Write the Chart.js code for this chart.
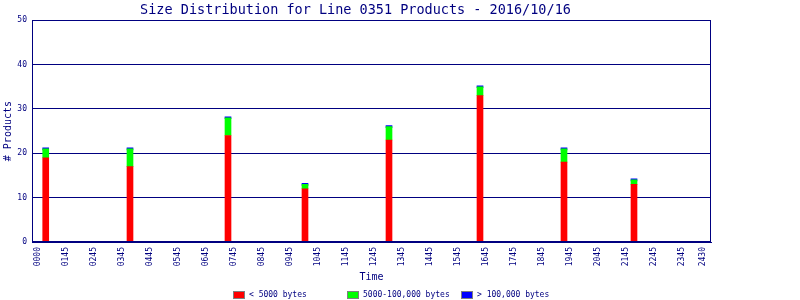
<!DOCTYPE html>
<html>
<head>
<meta charset="utf-8">
<script src="https://cdn.jsdelivr.net/npm/chart.js@4.4.0/dist/chart.umd.min.js"></script>
<style>
  html, body { margin: 0; padding: 0; background: #fff; }
</style>
</head>
<body>
<canvas id="sizeChart" width="800" height="300"></canvas>
<script>
// product times (hours on the axis) and counts per size class
const productTimes = [1.04, 4.05, 7.55, 10.3, 13.3, 16.55, 19.55, 22.05];
const smallCounts = [19, 17, 24, 12, 23, 33, 18, 13];
const mediumCounts = [2, 4, 4, 1, 3, 2, 3, 1];
const largeCounts = [0, 0, 0, 0, 0, 0, 0, 0];

const tickHours = [0.75, 1.75, 2.75, 3.75, 4.75, 5.75, 6.75, 7.75, 8.75, 9.75, 10.75, 11.75,
  12.75, 13.75, 14.75, 15.75, 16.75, 17.75, 18.75, 19.75, 20.75, 21.75, 22.75, 23.75, 24.5];
const tickLabels = ["0000", "0145", "0245", "0345", "0445", "0545", "0645", "0745", "0845",
  "0945", "1045", "1145", "1245", "1345", "1445", "1545", "1645", "1745", "1845", "1945",
  "2045", "2145", "2245", "2345", "2430"];

const seriesNames = ["< 5000 bytes", "5000-100,000 bytes", "> 100,000 bytes"];
const seriesColors = ["#ff0000", "#00ff00", "#0000ff"];

const NAVY = "#000080";
const MONO = "'DejaVu Sans Mono', 'Liberation Mono', monospace";

function points(values) {
  return productTimes.map((t, i) => ({ x: t, y: values[i] }));
}

// plot frame + fixed-slot legend under the chart
const framePlugin = {
  id: "frame",
  afterDatasetsDraw(chart) {
    const { ctx, chartArea: a } = chart;
    ctx.save();
    ctx.strokeStyle = NAVY;
    ctx.lineWidth = 1;
    const l = Math.round(a.left) + 0.5, t = Math.round(a.top) + 0.5;
    const r = Math.round(a.right) - 0.5, b = Math.round(a.bottom) - 0.5;
    ctx.strokeRect(l, t, r - l, b - t);
    ctx.restore();
  },
  afterDraw(chart) {
    const ctx = chart.ctx;
    ctx.save();
    ctx.font = "8px " + MONO;
    ctx.textBaseline = "middle";
    chart.data.datasets.forEach((ds, i) => {
      const x = 233 + i * 114;
      ctx.fillStyle = ds.backgroundColor;
      ctx.fillRect(x, 291, 12, 8);
      ctx.strokeStyle = "#808080";
      ctx.strokeRect(x + 0.5, 291.5, 11, 7);
      ctx.fillStyle = NAVY;
      ctx.fillText(ds.label, x + 16, 295);
    });
    ctx.restore();
  }
};

new Chart(document.getElementById("sizeChart"), {
  type: "bar",
  data: {
    datasets: [
      { label: seriesNames[0], data: points(smallCounts), backgroundColor: seriesColors[0] },
      { label: seriesNames[1], data: points(mediumCounts), backgroundColor: seriesColors[1] },
      { label: seriesNames[2], data: points(largeCounts), backgroundColor: seriesColors[2], minBarLength: 2 }
    ]
  },
  options: {
    responsive: false,
    animation: false,
    barThickness: 6,
    layout: { padding: { left: 0, right: 89, top: 0, bottom: 0 } },
    plugins: {
      legend: { display: false },
      tooltip: { enabled: false },
      title: {
        display: true,
        text: "Size Distribution for Line 0351 Products - 2016/10/16",
        color: NAVY,
        font: { family: MONO, size: 13.5, weight: "normal" },
        padding: { top: 2, bottom: 2 }
      }
    },
    scales: {
      x: {
        type: "linear",
        stacked: true,
        offset: false,
        min: 0.55,
        max: 24.8,
        afterBuildTicks: scale => { scale.ticks = tickHours.map(v => ({ value: v })); },
        afterFit: scale => { scale.height = 58; },
        ticks: {
          autoSkip: false,
          minRotation: 90,
          maxRotation: 90,
          padding: 5,
          color: NAVY,
          font: { family: MONO, size: 8 },
          callback: (v, i) => tickLabels[i]
        },
        grid: { display: false, drawTicks: false },
        border: { display: true, color: NAVY },
        title: {
          display: true,
          text: "Time",
          color: NAVY,
          font: { family: MONO, size: 10 },
          padding: { top: 0, bottom: 17 }
        }
      },
      y: {
        stacked: true,
        min: 0,
        max: 50,
        afterFit: scale => { scale.width = 32; },
        ticks: {
          stepSize: 10,
          padding: 5,
          color: NAVY,
          font: { family: MONO, size: 8 }
        },
        grid: { color: NAVY, lineWidth: 1, drawTicks: false },
        border: { display: true, color: NAVY },
        title: {
          display: true,
          text: "# Products",
          color: NAVY,
          font: { family: MONO, size: 10 },
          padding: { top: 2, bottom: 0 }
        }
      }
    }
  },
  plugins: [framePlugin]
});
</script>
</body>
</html>
